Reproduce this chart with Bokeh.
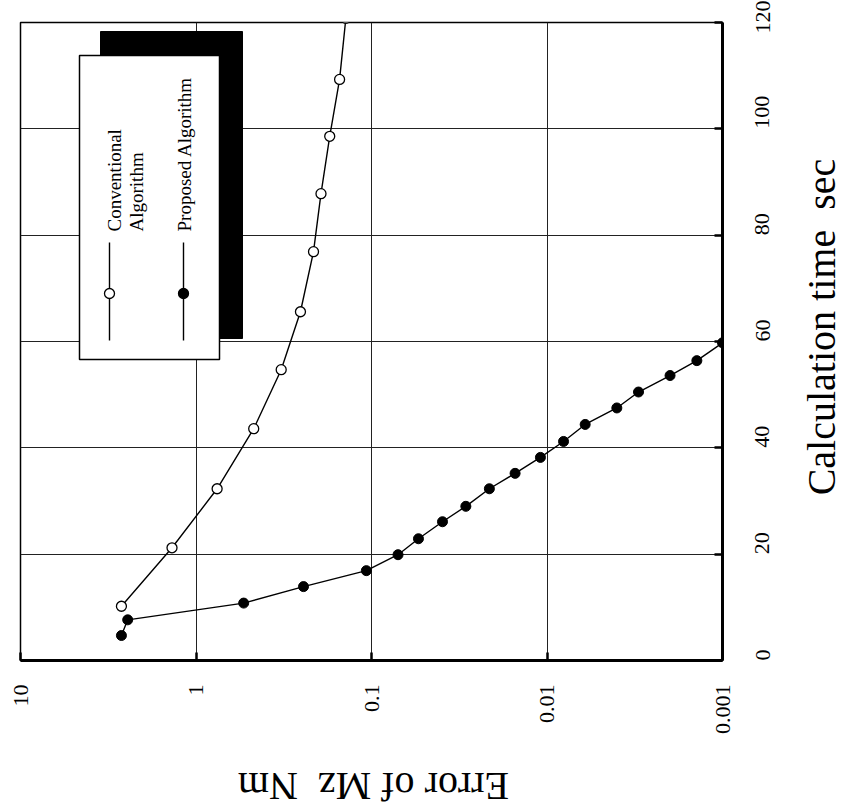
import math
from bokeh.plotting import figure
from bokeh.layouts import row, column
from bokeh.models import Range1d, FixedTicker, CustomJSTickFormatter
from bokeh.core.properties import value
from bokeh.embed import file_html
from bokeh.resources import INLINE

# ---- data ----
conv_t = [10.2, 21.2, 32.3, 43.6, 54.7, 65.6, 76.9, 87.8, 98.6, 109.3, 120.8]
conv_err = [2.66, 1.37, 0.758, 0.469, 0.327, 0.254, 0.214, 0.194, 0.173, 0.152, 0.14]

prop_t = [4.7, 7.65, 10.8, 13.9, 16.9, 19.9, 22.9, 26.1, 29.0, 32.3, 35.2,
          38.2, 41.2, 44.4, 47.5, 50.5, 53.6, 56.4, 59.75]
prop_err = [2.66, 2.45, 0.535, 0.244, 0.107, 0.0706, 0.054, 0.0394, 0.029, 0.0213,
            0.0152, 0.0109, 0.00805, 0.00606, 0.0040, 0.00301, 0.00199, 0.0014, 0.001]

err_ticks = [10, 1, 0.1, 0.01, 0.001]
time_ticks = [0, 20, 40, 60, 80, 100, 120]

series_names = ["Conventional", "Algorithm", "Proposed Algorithm"]
x_label = "Calculation time \u00a0sec"
y_label = "Error of Mz \u00a0Nm"

FONT = "Liberation Serif"

# ---- layout ----
W, H = 843, 811
FW, FH = 702, 638
BL, BT = 20, 22
MW, MH = 795, 750          # main plot canvas
ERR_MAX, ERR_MIN = 10, 0.001
T_MIN, T_MAX = 0, 120

p = figure(width=MW, height=MH, output_backend="svg", toolbar_location=None,
           x_axis_type="log", x_range=Range1d(ERR_MAX, ERR_MIN),
           y_range=Range1d(T_MIN, T_MAX), y_axis_location="right",
           min_border_left=BL, min_border_top=BT,
           min_border_right=MW - BL - FW, min_border_bottom=MH - BT - FH,
           background_fill_color="white", border_fill_color="white")

p.outline_line_color = "black"
p.outline_line_width = 1.5

# helpers: frame-relative pixel -> data coordinate (for legend placement only)
decades = math.log10(ERR_MAX) - math.log10(ERR_MIN)
def ex(px):
    return 10 ** (math.log10(ERR_MAX) - px / FW * decades)
def ty(py):
    return T_MAX - py / FH * (T_MAX - T_MIN)

# axes
xa = p.xaxis[0]
xa.ticker = FixedTicker(ticks=err_ticks)
xa.formatter = CustomJSTickFormatter(code="return Number(tick.toPrecision(3)).toString();")
ya = p.yaxis[0]
ya.ticker = FixedTicker(ticks=time_ticks)

for ax in (xa, ya):
    ax.axis_line_width = 3
    ax.axis_line_color = "black"
    ax.major_tick_in = 8
    ax.major_tick_out = 0
    ax.major_tick_line_width = 2.5
    ax.minor_tick_line_color = None
    ax.major_label_text_font = FONT
    ax.major_label_text_font_size = "22px"
    ax.major_label_text_color = "black"
    ax.major_label_orientation = math.pi / 2

xa.major_label_standoff = 24
ya.major_label_standoff = 40

p.xgrid.ticker = FixedTicker(ticks=err_ticks)
p.ygrid.ticker = FixedTicker(ticks=time_ticks)
for g in (p.xgrid, p.ygrid):
    g.grid_line_color = "#222222"
    g.grid_line_width = 1
    g.grid_line_alpha = 1.0

# ---- series ----
p.line(prop_err, prop_t, line_color="black", line_width=1.4)
p.scatter(prop_err, prop_t, size=10, marker="circle", fill_color="black", line_color="black")
p.line(conv_err, conv_t, line_color="black", line_width=1.4)
p.scatter(conv_err, conv_t, size=10, marker="circle", fill_color="white", line_color="black",
          line_width=1.3)

# ---- legend (drawn by hand, rotated like the rest of the chart) ----
p.quad(left=[ex(80)], right=[ex(222)], top=[ty(9)], bottom=[ty(316)],
       fill_color="black", line_color="black")
p.quad(left=[ex(59)], right=[ex(199)], top=[ty(33)], bottom=[ty(337)],
       fill_color="white", line_color="black", line_width=1.5)
for px, fill in ((89, "white"), (163, "black")):
    p.line([ex(px), ex(px)], [ty(220), ty(318)], line_color="black", line_width=1.4)
    p.scatter([ex(px)], [ty(271)], size=10, marker="circle", fill_color=fill,
              line_color="black", line_width=1.3)
p.text(x=[ex(94), ex(116), ex(164)], y=[ty(209)] * 3, text=series_names,
       angle=math.pi / 2, text_font=value(FONT), text_font_size="19px",
       text_align="left", text_baseline="alphabetic", text_color="black")

# ---- axis titles in their own strips (rotated like the scanned page) ----
def strip(w, h):
    f = figure(width=w, height=h, output_backend="svg", toolbar_location=None,
               x_range=Range1d(0, w), y_range=Range1d(0, h),
               x_axis_location=None, y_axis_location=None,
               min_border=0, background_fill_color="white", border_fill_color="white")
    f.outline_line_color = None
    f.grid.visible = False
    return f

RW = W - MW
r = strip(RW, MH)
r.text(x=[26], y=[MH - 358], text=[x_label], angle=math.pi / 2,
       text_font=value(FONT), text_font_size="40px", text_color="black",
       text_align="center", text_baseline="alphabetic")

BH = H - MH
b = strip(W, BH)
b.text(x=[373], y=[25], text=[y_label], angle=math.pi,
       text_font=value(FONT), text_font_size="40px", text_color="black",
       text_align="center", text_baseline="alphabetic")

layout = column(row(p, r, spacing=0), b, spacing=0)
open("out.html", "w").write(file_html(layout, INLINE))
